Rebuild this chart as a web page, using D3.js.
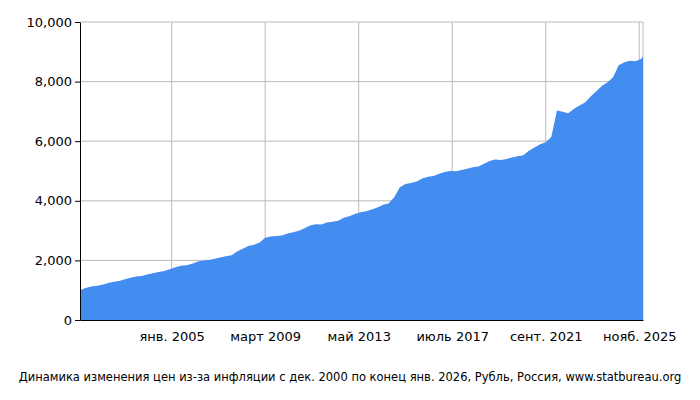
<!DOCTYPE html><html><head><meta charset="utf-8"><script src="https://cdn.jsdelivr.net/npm/d3@7"></script>
<style>body{margin:0;background:#fff}text{font-family:"DejaVu Sans";font-size:12px;fill:#000}</style></head><body><svg width="700" height="400"></svg>
<script>
// quarterly index values, months since Dec 2000
const months=[0,3,6,9,12,15,18,21,24,27,30,33,36,39,42,45,48,51,54,57,60,63,66,69,72,75,78,81,84,87,90,93,96,99,102,105,108,111,114,117,120,123,126,129,132,135,138,141,144,147,150,153,156,159,162,165,168,171,174,177,180,183,186,189,192,195,198,201,204,207,210,213,216,219,222,225,228,231,234,237,240,243,246,249,252,255,258,261,264,267,270,273,276,279,282,285,288,291,294,297,300,301];
const values=[1000,1076,1127,1148,1186,1243,1282,1308,1366,1420,1463,1477,1527,1568,1611,1645,1703,1771,1817,1838,1886,1961,1993,2015,2056,2099,2136,2171,2297,2395,2482,2524,2601,2760,2805,2822,2832,2903,2942,2993,3080,3175,3213,3206,3274,3296,3331,3435,3484,3555,3612,3646,3704,3774,3869,3911,4122,4453,4562,4601,4650,4748,4808,4829,4907,4968,5003,4991,5034,5075,5125,5152,5247,5334,5387,5370,5404,5449,5492,5525,5682,5786,5898,5965,6150,7030,6990,6940,7080,7200,7300,7500,7680,7850,7980,8150,8550,8650,8700,8680,8760,8850];
const tickMonths=[49,99,149,199,249,299];
const tickLabels=["янв. 2005","март 2009","май 2013","июль 2017","сент. 2021","нояб. 2025"];
const yTicks=[0,2000,4000,6000,8000,10000];
const title="Динамика изменения цен из-за инфляции с дек. 2000 по конец янв. 2026, Рубль, Россия, www.statbureau.org";
const svg=d3.select("svg");
const x=d3.scaleLinear().domain([0,301]).range([80,643]);
const y=d3.scaleLinear().domain([0,10000]).range([320,22]);
const g=svg.append("g");
g.selectAll(".h").data(yTicks).join("line").attr("x1",80).attr("x2",643).attr("y1",d=>y(d)).attr("y2",d=>y(d)).attr("stroke","#bbb");
g.selectAll(".v").data(tickMonths).join("line").attr("x1",d=>x(d)).attr("x2",d=>x(d)).attr("y1",22).attr("y2",320).attr("stroke","#bbb");
g.append("line").attr("x1",643).attr("x2",643).attr("y1",22).attr("y2",320).attr("stroke","#bbb");
const data=months.map((m,i)=>[m,values[i]]);
svg.append("path").datum(data).attr("fill","#438cf0").attr("d",d3.area().x(d=>x(d[0])).y0(y(0)).y1(d=>y(d[1])));
const ax=svg.append("g").attr("transform","translate(80,0)").call(d3.axisLeft(y).tickValues(yTicks).tickSize(5).tickSizeOuter(0));
ax.selectAll("text").style("font-family","DejaVu Sans").style("font-size","13px");
const bx=svg.append("g").attr("transform","translate(0,320)").call(d3.axisBottom(x).tickValues(tickMonths).tickFormat((d,i)=>tickLabels[i]).tickSize(0).tickSizeOuter(0));
bx.selectAll("text").attr("dy","1.4em").style("font-family","DejaVu Sans").style("font-size","13px");
svg.append("text").attr("x",350).attr("y",381).attr("text-anchor","middle").style("font-size","11.5px").text(title);
</script></body></html>
